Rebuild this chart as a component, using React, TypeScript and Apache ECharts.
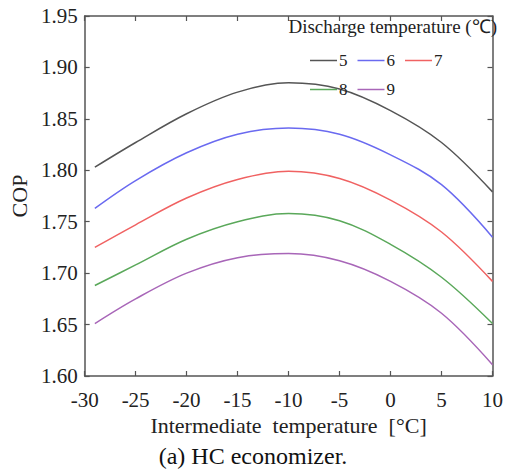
import React, { useEffect, useRef } from "react";
import * as echarts from "echarts";

const temps = [-29, -25, -20, -15, -10, -5, 0, 5, 10];
const seriesNames = ["5", "6", "7", "8", "9"];
const cop5 = [1.803, 1.827, 1.855, 1.876, 1.885, 1.879, 1.858, 1.827, 1.779];
const cop6 = [1.763, 1.790, 1.817, 1.835, 1.841, 1.835, 1.815, 1.786, 1.735];
const cop7 = [1.725, 1.747, 1.773, 1.791, 1.799, 1.792, 1.771, 1.740, 1.692];
const cop8 = [1.688, 1.708, 1.733, 1.750, 1.758, 1.751, 1.728, 1.696, 1.651];
const cop9 = [1.651, 1.675, 1.700, 1.715, 1.719, 1.712, 1.692, 1.661, 1.611];
const allValues = [cop5, cop6, cop7, cop8, cop9];
const colors = ["#555555", "#6a6af0", "#f06262", "#5aa85a", "#a866b8"];

const FONT = "Liberation Serif";
const TXT = "#222";

export default function App() {
  const ref = useRef<HTMLDivElement>(null);
  useEffect(() => {
    if (!ref.current) return;
    const chart = echarts.init(ref.current, undefined, { renderer: "svg" });
    const axisLine = { show: true, onZero: false, lineStyle: { color: "#555", width: 1.5 } };
    const tick = { show: true, inside: true, length: 5, lineStyle: { color: "#555", width: 1.2 } };
    const legendCommon = {
      left: 310,
      icon: "rect",
      itemWidth: 27,
      itemHeight: 1.5,
      itemGap: 10,
      padding: 0,
      textStyle: { fontFamily: FONT, fontSize: 17, color: TXT, padding: [2, 0, 0, -3] },
    };
    chart.setOption({
      animation: false,
      backgroundColor: "#fff",
      textStyle: { fontFamily: FONT },
      grid: { left: 82, right: 10, top: 16, bottom: 100 },
      title: [
        {
          text: "(a) HC economizer.",
          left: "center",
          top: 444,
          padding: 0,
          textStyle: { fontFamily: FONT, fontSize: 24, fontWeight: "normal", color: "#111" },
        },
        {
          text: "Discharge temperature (℃)",
          right: 9,
          top: 17,
          padding: 0,
          textStyle: { fontFamily: FONT, fontSize: 19, fontWeight: "normal", color: TXT },
        },
      ],
      legend: [
        { ...legendCommon, data: seriesNames.slice(0, 3), top: 52 },
        { ...legendCommon, data: seriesNames.slice(3), top: 81 },
      ],
      xAxis: [
        {
          type: "value",
          min: -30,
          max: 10,
          interval: 5,
          name: "Intermediate  temperature  [°C]",
          nameLocation: "middle",
          nameGap: 37,
          nameTextStyle: { fontFamily: FONT, fontSize: 22, color: TXT },
          axisLine,
          axisTick: tick,
          axisLabel: { fontFamily: FONT, fontSize: 21, color: TXT, margin: 13 },
          splitLine: { show: false },
        },
        {
          type: "value",
          position: "top",
          min: -30,
          max: 10,
          interval: 5,
          axisLine,
          axisTick: tick,
          axisLabel: { show: false },
          splitLine: { show: false },
        },
      ],
      yAxis: [
        {
          type: "value",
          min: 1.6,
          max: 1.95,
          interval: 0.05,
          name: "COP",
          nameLocation: "middle",
          nameGap: 52,
          nameTextStyle: { fontFamily: FONT, fontSize: 22, color: TXT },
          axisLine,
          axisTick: tick,
          axisLabel: {
            fontFamily: FONT,
            fontSize: 21,
            color: TXT,
            margin: 7,
            formatter: (v: number) => v.toFixed(2),
          },
          splitLine: { show: false },
        },
        {
          type: "value",
          position: "right",
          min: 1.6,
          max: 1.95,
          interval: 0.05,
          axisLine,
          axisTick: tick,
          axisLabel: { show: false },
          splitLine: { show: false },
        },
      ],
      series: seriesNames.map((name, i) => ({
        name,
        type: "line",
        smooth: 0.35,
        symbol: "none",
        data: temps.map((t, j) => [t, allValues[i][j]]),
        lineStyle: { color: colors[i], width: 1.5 },
        itemStyle: { color: colors[i] },
      })),
    });
    return () => chart.dispose();
  }, []);
  return (
    <div
      ref={ref}
      style={{ position: "fixed", left: 0, top: 0, width: 506, height: 476 }}
    />
  );
}
